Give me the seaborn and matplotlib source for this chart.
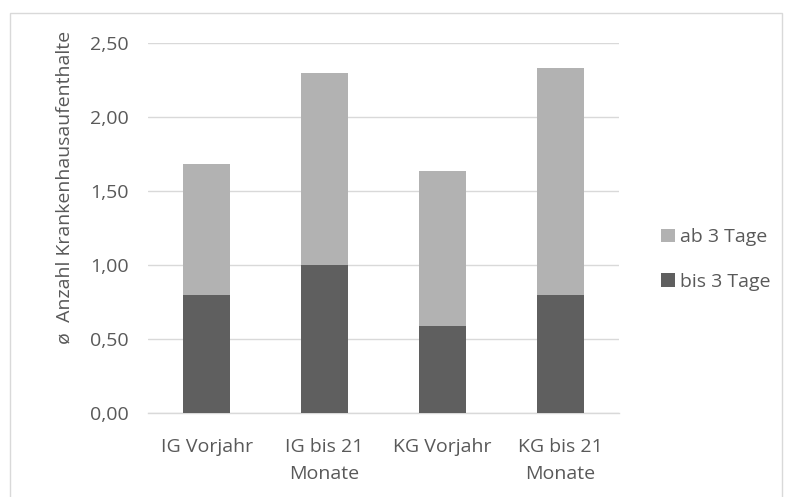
import numpy as np
import pandas as pd
import seaborn as sns
import matplotlib.pyplot as plt
from matplotlib.patches import Rectangle

categories = ["IG Vorjahr", "IG bis 21\nMonate", "KG Vorjahr", "KG bis 21\nMonate"]
bis_3_tage = [0.80, 1.00, 0.59, 0.80]
ab_3_tage = [0.88, 1.30, 1.045, 1.53]

df = pd.DataFrame({"Gruppe": categories, "bis": bis_3_tage, "ab": ab_3_tage})
df["gesamt"] = df["bis"] + df["ab"]

sns.set_style("white")
plt.rcParams["font.family"] = ["Open Sans", "DejaVu Sans"]
text_col = "#595959"

fig = plt.figure(figsize=(7.93, 4.97), dpi=100)
ax = fig.add_axes([0.1866, 0.169, 0.594, 0.7445])

# stacked: total first (light), then lower part (dark) on top
sns.barplot(data=df, x="Gruppe", y="gesamt", color="#b2b2b2", width=0.4,
            saturation=1, label="ab 3 Tage", ax=ax, zorder=3, linewidth=0)
sns.barplot(data=df, x="Gruppe", y="bis", color="#5f5f5f", width=0.4,
            saturation=1, label="bis 3 Tage", ax=ax, zorder=3, linewidth=0)

ax.set_ylim(0, 2.5)
ax.set_xlim(-0.5, 3.5)
yt = np.arange(0, 2.51, 0.5)
ax.set_yticks(yt)
ax.set_yticklabels([f"{v:.2f}".replace(".", ",") for v in yt])
ax.yaxis.grid(True, color="#d9d9d9", linewidth=1, zorder=0)
ax.set_axisbelow(True)
for s in ["top", "right", "left"]:
    ax.spines[s].set_visible(False)
ax.spines["bottom"].set_color("#d9d9d9")
ax.spines["bottom"].set_linewidth(1)
ax.tick_params(axis="both", length=0, labelsize=14, colors=text_col)
ax.tick_params(axis="y", pad=14)
ax.tick_params(axis="x", pad=18)
for t in ax.get_xticklabels():
    t.set_linespacing(1.65)
ax.set_xlabel("")
ax.set_ylabel("ø  Anzahl Krankenhausaufenthalte", fontsize=14, color=text_col)
ax.yaxis.set_label_coords(-0.158, 0.61)

ax.legend(loc="center left", bbox_to_anchor=(1.089, 0.415), frameon=False,
          fontsize=14, labelcolor=text_col, handlelength=0.7, handleheight=0.7,
          handletextpad=0.3, labelspacing=1.35, borderpad=0, borderaxespad=0)

# chart-area frame (bottom edge lies outside the image)
fig.patches.append(Rectangle((10 / 793, -0.05), 772 / 793, 1 - 13 / 497 + 0.05,
                             transform=fig.transFigure, fill=False,
                             edgecolor="#d9d9d9", linewidth=1))

fig.savefig("out.png", dpi=100)
